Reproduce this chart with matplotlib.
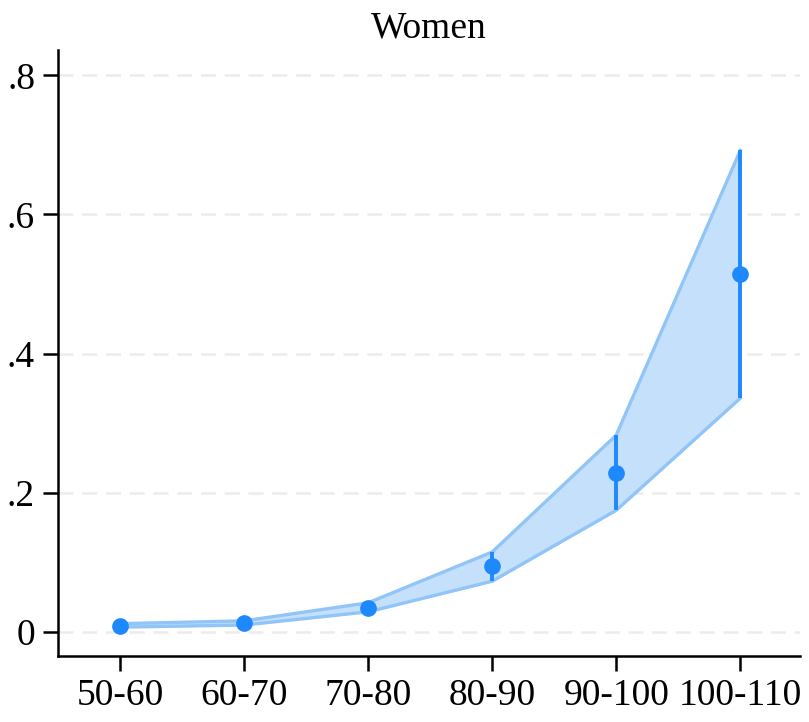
import numpy as np
import matplotlib.pyplot as plt

plt.rcParams['font.family'] = ['Liberation Serif', 'DejaVu Serif']

groups = ['50-60', '60-70', '70-80', '80-90', '90-100', '100-110']
est = [0.009, 0.013, 0.034, 0.095, 0.228, 0.514]
lo = [0.007, 0.010, 0.029, 0.073, 0.175, 0.336]
hi = [0.012, 0.016, 0.042, 0.115, 0.283, 0.692]

yticks = [0, 0.2, 0.4, 0.6, 0.8]
ylabels = ['0', '.2', '.4', '.6', '.8']

x = np.arange(len(groups))
est = np.array(est)
lo = np.array(lo)
hi = np.array(hi)

fig = plt.figure(figsize=(8.09, 7.22), dpi=100)
ax = fig.add_axes([0.0717, 0.0914, 0.917, 0.839])

# confidence band
ax.fill_between(x, lo, hi, color='#c5e0fb', zorder=1)
ax.plot(x, lo, color='#92c5f7', lw=2.4, zorder=2)
ax.plot(x, hi, color='#92c5f7', lw=2.4, zorder=2)

# point estimates with CI spikes
ax.vlines(x, lo, hi, color='#1e88ff', lw=2.8, zorder=3)
ax.plot(x, est, 'o', color='#1e88ff', ms=11, zorder=4)

ax.set_xlim(-0.5, 5.48)
ax.set_ylim(-0.0345, 0.836)
ax.set_xticks(x)
ax.set_xticklabels(groups)
ax.set_yticks(yticks)
ax.set_yticklabels(ylabels)

for yv in yticks:
    ax.axhline(yv, color='#ececec', lw=1.8, ls=(0, (6, 3.5)), zorder=0)

ax.spines['top'].set_visible(False)
ax.spines['right'].set_visible(False)
ax.spines['left'].set_linewidth(1.8)
ax.spines['bottom'].set_linewidth(1.8)
ax.tick_params(axis='both', direction='out', length=10.5, width=1.8, labelsize=27, pad=6)

ax.set_title('Women', fontsize=27, pad=9)

fig.savefig('out.png', dpi=100)
